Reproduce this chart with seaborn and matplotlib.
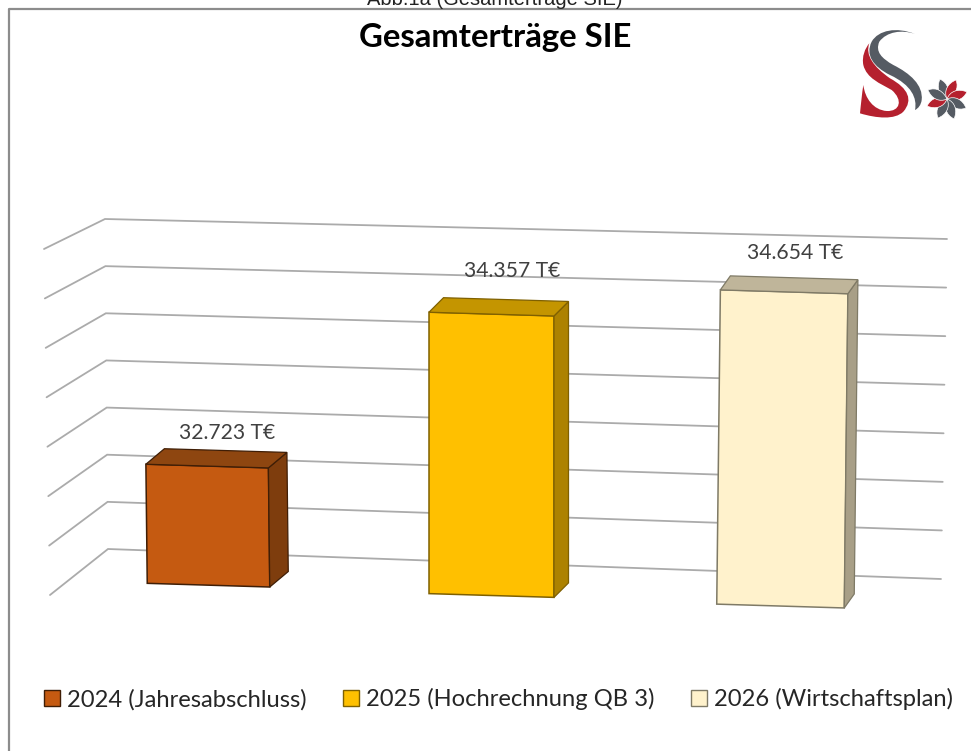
import numpy as np
import pandas as pd
import matplotlib.pyplot as plt
import seaborn as sns
from matplotlib.patches import PathPatch, Polygon
from matplotlib.path import Path
from matplotlib.transforms import Affine2D, IdentityTransform

sns.set_theme(style='white')
plt.rcParams['font.family'] = ['Lato', 'DejaVu Sans']

# data
labels = ['2024 (Jahresabschluss)', '2025 (Hochrechnung QB 3)', '2026 (Wirtschaftsplan)']
values = [32723, 34357, 34654]
value_texts = ['32.723 T€', '34.357 T€', '34.654 T€']
grid_ticks = [31500, 32000, 32500, 33000, 33500, 34000, 34500, 35000]

# colours per bar
front_colors = ['#C55A11', '#FFC000', '#FFF2CC']
top_colors = ['#8E4610', '#C49500', '#BFB59A']
side_colors = ['#7E3D0D', '#AD8200', '#A89F87']
edge_colors = ['#3F1E06', '#7F6000', '#7F7A66']

# fake 3d look, all in pixels
W, H = 971, 751
MID_X = 491.5
BASE_Y = 595.5
PX_PER_UNIT = 0.0985
PX_PER_CAT = 286
nudge_x = [3, 0, 3]
depth_x = [18.5, 14.5, 10]
depth_y = [15.5, 14.5, 14]
label_dx = [20, 21, 11]
label_dy = [33, 43, 39]

fig = plt.figure(figsize=(W / 100, H / 100), dpi=100, facecolor='white')

# background layer in image pixels: frame, wall lines, logo
bg = fig.add_axes([0, 0, 1, 1], zorder=0)
bg.set_xlim(0, W)
bg.set_ylim(H, 0)
bg.set_axis_off()
bg.plot([9, 9, W], [H, 8.5, 8.5], color='#8C8C8C', lw=1.6)

# wall lines, one per tick, bent at the back corner
for t in grid_ticks:
    f = (t - grid_ticks[0]) / (grid_ticks[-1] - grid_ticks[0])
    xs = [50 - 6 * f, 108 - 3 * f, 941 + 6 * f]
    ys = [595 - 346 * f, 549 - 330 * f, 579 - 340 * f]
    bg.plot(xs, ys, color='#ABABAB', lw=1.3, solid_joinstyle='miter')

# logo
M, C = Path.MOVETO, Path.CURVE4
RED, GREY = '#B5202E', '#555B63'
logo_tf = Affine2D().scale(1 / 3).translate(840, 10)
grey_s = Path(
    [(225, 72), (185, 58), (140, 65), (118, 95), (105, 125), (125, 145), (160, 165),
     (210, 190), (250, 225), (245, 270), (243, 285), (235, 295), (225, 300),
     (232, 265), (215, 225), (150, 195), (100, 170), (75, 135), (95, 95),
     (115, 60), (170, 50), (225, 72)],
    [M] + [C] * 21)
red_s = Path(
    [(88, 100), (75, 135), (100, 170), (150, 205), (205, 235), (220, 270), (190, 305),
     (165, 330), (110, 325), (60, 310), (63, 280), (66, 250), (70, 225),
     (75, 265), (100, 300), (140, 303), (180, 305), (190, 270), (155, 240),
     (120, 220), (80, 205), (70, 165), (65, 140), (75, 115), (88, 100)],
    [M] + [C] * 24)
bg.add_patch(PathPatch(red_s.transformed(logo_tf), fc=RED, ec='none'))
bg.add_patch(PathPatch(grey_s.transformed(logo_tf), fc=GREY, ec='none'))

petal = Path([(0, 0), (-6, -6), (-5, -15), (2, -21), (8, -14), (6, -6), (0, 0)], [M] + [C] * 6)
petal_colors = [GREY, RED, RED, GREY, GREY, GREY, RED, GREY]
for i, col in enumerate(petal_colors):
    tr = Affine2D().rotate_deg(-25 + 45 * i).translate(947, 99)
    bg.add_patch(PathPatch(petal.transformed(tr), fc=col, ec='white', lw=0.5))

# bars, axes placed so that the value scale and categories land on the picture
ax_w = PX_PER_CAT * 3
ax_h = PX_PER_UNIT * (grid_ticks[-1] - grid_ticks[0])
ax_left = MID_X - ax_w / 2
ax = fig.add_axes([ax_left / W, (H - BASE_Y) / H, ax_w / W, ax_h / H], zorder=1)
ax.patch.set_alpha(0)

df = pd.DataFrame({'Jahr': labels, 'Wert': values})
sns.barplot(data=df, x='Jahr', y='Wert', hue='Jahr', palette=front_colors, dodge=False, saturation=1,
            width=125 / PX_PER_CAT, linewidth=1.1, legend=True, ax=ax)
ax.set_xlim(-0.5, 2.5)
ax.set_ylim(grid_ticks[0], grid_ticks[-1])

bars = sorted([p for p in ax.patches if p.get_width() > 0 and p.get_height() > 0], key=lambda p: p.get_x())

for i, bar in enumerate(bars):
    bar.set_y(grid_ticks[0])
    bar.set_height(values[i] - grid_ticks[0])
    bar.set_edgecolor(edge_colors[i])
    bar.set_clip_on(False)

    # lean and grow a little towards the right, like in the perspective of the original
    cx, cy = ax.transData.transform((bar.get_x() + bar.get_width() / 2, grid_ticks[0]))
    off = cx + nudge_x[i] - MID_X
    zoom_x = 1 + off * 7e-5
    zoom_y = 1 + off * 4e-5
    lean = off * 4e-5
    shear = 0.03
    m = np.array([[1, lean, 0], [-shear, 1, 0], [0, 0, 1]])
    target_y = H - (BASE_Y + 0.0365 * off)
    tf = Affine2D().translate(-cx, -cy).scale(zoom_x, zoom_y) + Affine2D(m) + Affine2D().translate(cx + nudge_x[i], target_y)
    full = ax.transData + tf
    bar.set_transform(full)

    x0, x1 = bar.get_x(), bar.get_x() + bar.get_width()
    y0, y1 = grid_ticks[0], values[i]
    bl, br, tr, tl = full.transform([(x0, y0), (x1, y0), (x1, y1), (x0, y1)])
    d = np.array([depth_x[i], depth_y[i]])

    # side and top faces from the corners of the front face
    for pts, col in [([br, tr, tr + d, br + d], side_colors[i]), ([tl, tr, tr + d, tl + d], top_colors[i])]:
        ax.add_patch(Polygon(pts, closed=True, fc=col, ec=edge_colors[i], lw=0.9,
                             transform=IdentityTransform(), clip_on=False, zorder=bar.get_zorder()))

    top_mid = (tl + tr) / 2
    ax.text(top_mid[0] + label_dx[i], top_mid[1] + label_dy[i], value_texts[i],
            transform=IdentityTransform(), ha='center', va='center', fontsize=15.2, color='#404040', clip_on=False)

ax.set_axis_off()

# legend
sns.move_legend(ax, 'lower left', bbox_to_anchor=(39 / W, (H - 715) / H), bbox_transform=fig.transFigure,
                ncol=3, title=None, frameon=False, fontsize=17.15, handlelength=0.69, handleheight=0.69,
                handletextpad=0.28, columnspacing=1.53, borderpad=0.2, borderaxespad=0)
for h, col, txt in zip(ax.get_legend().get_patches(), edge_colors, ax.get_legend().get_texts()):
    h.set_edgecolor(col)
    h.set_linewidth(1)
    txt.set_color('#262626')

fig.text(495 / W, 1 - 38 / H, 'Gesamterträge SIE', ha='center', va='center', fontsize=23.7, fontweight='bold', color='black')
fig.text(495 / W, 1 - 5 / H, 'Abb.1a (Gesamterträge SIE)', ha='center', va='baseline', fontsize=14.5, color='#222222',
         family=['Liberation Sans', 'DejaVu Sans'])

fig.savefig('out.png', dpi=100, facecolor='white')
